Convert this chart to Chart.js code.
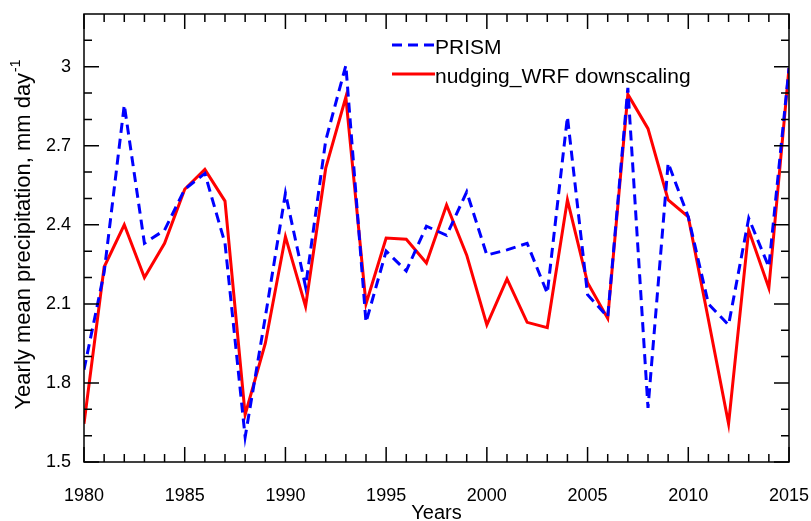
<!DOCTYPE html>
<html>
<head>
<meta charset="utf-8">
<script src="https://cdn.jsdelivr.net/npm/chart.js@4"></script>
<style>
  html, body { margin: 0; padding: 0; background: #fff; }
  #wrap { width: 811px; height: 521px; }
</style>
</head>
<body>
<div id="wrap"><canvas id="chart" width="811" height="521"></canvas></div>
<script>
// ── Data ─────────────────────────────────────────────────────────────────────
const years = [1980, 1981, 1982, 1983, 1984, 1985, 1986, 1987, 1988, 1989,
               1990, 1991, 1992, 1993, 1994, 1995, 1996, 1997, 1998, 1999,
               2000, 2001, 2002, 2003, 2004, 2005, 2006, 2007, 2008, 2009,
               2010, 2011, 2012, 2013, 2014, 2015];
const prism = [1.85, 2.22, 2.855, 2.33, 2.38, 2.535, 2.595, 2.33, 1.595, 2.05,
               2.52, 2.165, 2.72, 3.005, 2.03, 2.30, 2.225, 2.395, 2.36, 2.525,
               2.285, 2.305, 2.33, 2.14, 2.81, 2.135, 2.05, 2.92, 1.705, 2.635,
               2.43, 2.10, 2.02, 2.425, 2.24, 2.995];
const wrf   = [1.645, 2.24, 2.40, 2.20, 2.33, 2.535, 2.61, 2.49, 1.68, 1.95,
               2.355, 2.09, 2.615, 2.885, 2.10, 2.35, 2.345, 2.255, 2.475, 2.285,
               2.02, 2.195, 2.03, 2.01, 2.495, 2.18, 2.045, 2.895, 2.765, 2.495,
               2.43, 2.04, 1.645, 2.38, 2.16, 2.995];
const xTicks = [1980, 1985, 1990, 1995, 2000, 2005, 2010, 2015];
const yTicks = [1.5, 1.8, 2.1, 2.4, 2.7, 3];
const xMinor = years;
const yMinor = [1.6, 1.7, 1.9, 2.0, 2.2, 2.3, 2.5, 2.6, 2.8, 2.9, 3.1];
const seriesNames = ["PRISM", "nudging_WRF downscaling"];

const FONT = "'Liberation Sans', Arial, Helvetica, sans-serif";

// ── Frame, inward ticks, legend and axis title ─────────────────────────────────
const framePlugin = {
  id: "frame",
  afterDraw(chart) {
    const { ctx, chartArea: a, scales: { x, y } } = chart;
    ctx.save();
    ctx.strokeStyle = "#000";
    ctx.lineWidth = 1.5;
    ctx.strokeRect(a.left, a.top, a.right - a.left, a.bottom - a.top);

    ctx.beginPath();
    const tickX = (v, len) => {
      const px = x.getPixelForValue(v);
      ctx.moveTo(px, a.bottom); ctx.lineTo(px, a.bottom - len);
      ctx.moveTo(px, a.top);    ctx.lineTo(px, a.top + len);
    };
    const tickY = (v, len) => {
      const py = y.getPixelForValue(v);
      ctx.moveTo(a.left, py);  ctx.lineTo(a.left + len, py);
      ctx.moveTo(a.right, py); ctx.lineTo(a.right - len, py);
    };
    xMinor.forEach(v => tickX(v, 8));
    xTicks.forEach(v => tickX(v, 15));
    yMinor.forEach(v => tickY(v, 8));
    yTicks.forEach(v => tickY(v, 15));
    ctx.stroke();

    // legend
    const ds = chart.data.datasets;
    const rows = [45, 74];
    ds.forEach((d, i) => {
      ctx.beginPath();
      ctx.strokeStyle = d.borderColor;
      ctx.lineWidth = d.borderWidth;
      ctx.setLineDash(d.borderDash || []);
      ctx.moveTo(392, rows[i]);
      ctx.lineTo(435, rows[i]);
      ctx.stroke();
      ctx.setLineDash([]);
      ctx.fillStyle = "#000";
      ctx.font = `21px ${FONT}`;
      ctx.textBaseline = "middle";
      ctx.textAlign = "left";
      ctx.fillText(d.label, 435, rows[i] + 3);
    });

    // y title with superscript
    const main = "Yearly mean precipitation, mm day";
    const sup = "-1";
    ctx.font = `22px ${FONT}`;
    const wMain = ctx.measureText(main).width;
    ctx.font = `14px ${FONT}`;
    const wSup = ctx.measureText(sup).width;
    ctx.translate(30, 235);
    ctx.rotate(-Math.PI / 2);
    const start = -(wMain + wSup) / 2;
    ctx.textBaseline = "alphabetic";
    ctx.font = `22px ${FONT}`;
    ctx.fillText(main, start, 0);
    ctx.font = `14px ${FONT}`;
    ctx.fillText(sup, start + wMain + 1, -10);
    ctx.restore();
  },
};

const ctx = document.getElementById("chart").getContext("2d");
new Chart(ctx, {
  type: "line",
  data: {
    datasets: [
      {
        label: seriesNames[0],
        data: years.map((yr, i) => ({ x: yr, y: prism[i] })),
        borderColor: "#0000ff",
        borderWidth: 3,
        borderDash: [10, 6],
        pointRadius: 0,
        tension: 0,
        fill: false,
      },
      {
        label: seriesNames[1],
        data: years.map((yr, i) => ({ x: yr, y: wrf[i] })),
        borderColor: "#ff0000",
        borderWidth: 3,
        pointRadius: 0,
        tension: 0,
        fill: false,
      },
    ],
  },
  options: {
    responsive: false,
    animation: false,
    layout: { padding: { top: 14, right: 22, left: 0, bottom: 0 } },
    plugins: { legend: { display: false }, tooltip: { enabled: false } },
    scales: {
      x: {
        type: "linear",
        min: 1980,
        max: 2015,
        afterBuildTicks: s => { s.ticks = xTicks.map(v => ({ value: v })); },
        afterFit: s => { s.height = 59; s.paddingLeft = 0; s.paddingRight = 0; },
        border: { display: false },
        grid: { display: false, drawTicks: false },
        ticks: { color: "#000", font: { size: 18, family: FONT }, padding: 23,
                 maxRotation: 0, callback: v => String(v) },
        title: { display: true, text: "Years", color: "#000",
                 font: { size: 20, family: FONT }, padding: { top: 0, bottom: -4 } },
      },
      y: {
        min: 1.5,
        max: 3.2,
        afterBuildTicks: s => { s.ticks = yTicks.map(v => ({ value: v })); },
        afterFit: s => { s.width = 84; s.paddingTop = 0; s.paddingBottom = 0; },
        border: { display: false },
        grid: { display: false, drawTicks: false },
        ticks: { color: "#000", font: { size: 18, family: FONT }, padding: 13,
                 callback: v => String(v) },
      },
    },
  },
  plugins: [framePlugin],
});
</script>
</body>
</html>
